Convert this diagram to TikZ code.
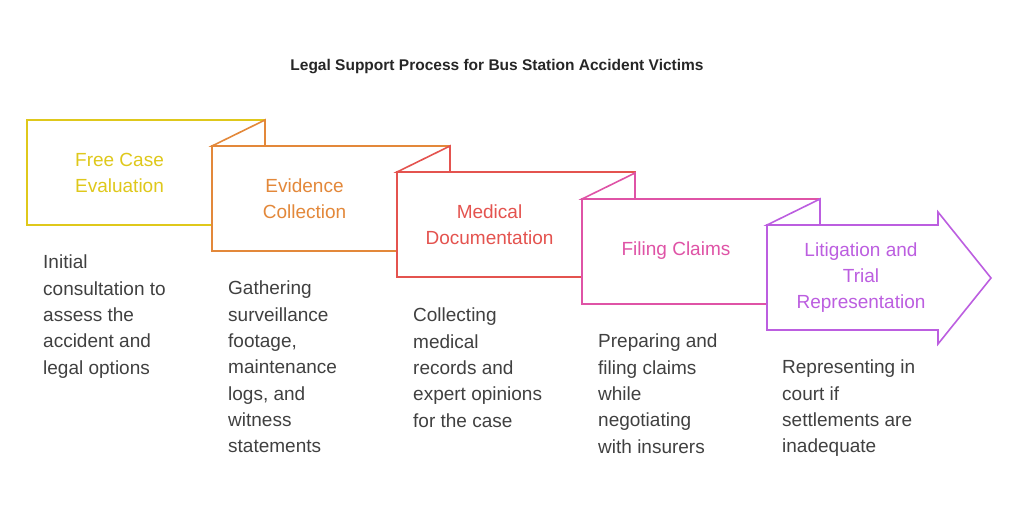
\documentclass[tikz,border=0pt]{standalone}
\usepackage{fontspec}
\setmainfont{Liberation Sans}
\begin{document}
\begin{tikzpicture}[x=1pt,y=-1pt,
  box/.style={line width=1.6pt,fill=white,line join=miter},
  lab/.style={font=\fontsize{19}{26}\selectfont,align=center},
  desc/.style={font=\fontsize{19}{26.3}\selectfont,align=left,anchor=north west,text=black!75,inner sep=0pt}]
\definecolor{c1}{HTML}{DFC81B}
\definecolor{c2}{HTML}{E3883A}
\definecolor{c3}{HTML}{E4534F}
\definecolor{c4}{HTML}{DF53A6}
\definecolor{c5}{HTML}{BC5EE0}
\useasboundingbox (0,0) rectangle (1019,518);
\node[font=\bfseries\fontsize{15.5}{18}\selectfont,text=black!85] (title) at (497,67) {Legal Support Process for Bus Station Accident Victims};
% box 1
\draw[box,draw=c1] (27,120) rectangle (265,225);
% box 2..4
\foreach \L/\T/\c in {212/146/c2,397/172/c3,582/199/c4}{
  \draw[box,draw=\c] (\L,\T) -- (\L+53,\T-26) -- (\L+53,\T) -- cycle;
  \draw[box,draw=\c] (\L,\T) rectangle (\L+238,\T+105);
}
% box 5 arrow
\draw[box,draw=c5] (767,225) -- (820,199) -- (820,225) -- cycle;
\draw[box,draw=c5] (767,330) -- (767,225) -- (938,225) -- (938,212) -- (991,278) -- (938,344) -- (938,330) -- cycle;
\node[lab,text=c1] (l1) at (119.5,172.5) {Free Case\\Evaluation};
\node[lab,text=c2] (l2) at (304.5,198.5) {Evidence\\Collection};
\node[lab,text=c3] (l3) at (489.5,225) {Medical\\Documentation};
\node[lab,text=c4] (l4) at (676,251) {Filing Claims};
\node[lab,text=c5] (l5) at (861,278) {Litigation and\\Trial\\Representation};
\node[desc] (d1) at (43,255) {Initial\\consultation to\\assess the\\accident and\\legal options};
\node[desc] (d2) at (228,281) {Gathering\\surveillance\\footage,\\maintenance\\logs, and\\witness\\statements};
\node[desc] (d3) at (413,308) {Collecting\\medical\\records and\\expert opinions\\for the case};
\node[desc] (d4) at (598,334) {Preparing and\\filing claims\\while\\negotiating\\with insurers};
\node[desc] (d5) at (782,360) {Representing in\\court if\\settlements are\\inadequate};
\end{tikzpicture}
\end{document}
